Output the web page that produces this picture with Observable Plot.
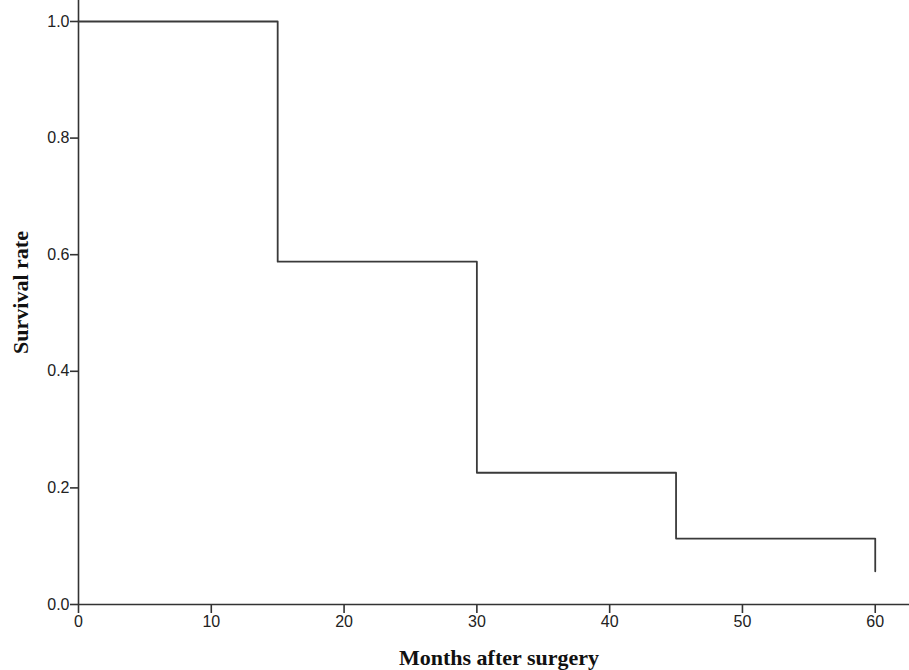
<!DOCTYPE html>
<html>
<head>
<meta charset="utf-8">
<script src="https://cdn.jsdelivr.net/npm/d3@7"></script>
<script src="https://cdn.jsdelivr.net/npm/@observablehq/plot@0.6"></script>
<style>
  html, body { margin: 0; padding: 0; background: #fff; }
  #chart svg { display: block; }
  #chart svg text { font-size: 16px; }
  #chart svg .title text, #chart svg text.title-text { font-size: 22px; }
</style>
</head>
<body>
<div id="chart"></div>
<script>
// Kaplan-Meier survival estimates
const months = [0, 15, 30, 45, 60];
const survival = [1.0, 0.588, 0.226, 0.113, 0.057];
const xTicks = [0, 10, 20, 30, 40, 50, 60];
const yTicks = [0.0, 0.2, 0.4, 0.6, 0.8, 1.0];
const xTitle = "Months after surgery";
const yTitle = "Survival rate";

const data = months.map((m, i) => ({month: m, surv: survival[i]}));

const axisColor = "#333";
const tickFont = "Arial, Liberation Sans, sans-serif";
const titleFont = "Liberation Serif, Times New Roman, serif";

const chart = Plot.plot({
  width: 909,
  height: 670,
  marginLeft: 78,
  marginRight: 0,
  marginTop: 0,
  marginBottom: 66,
  style: {background: "#fff", color: "#222", fontFamily: tickFont, fontSize: "16px"},
  x: {domain: [0, 62.58], ticks: xTicks},
  y: {domain: [0, 1.036], ticks: yTicks},
  marks: [
    Plot.ruleY([0], {stroke: axisColor, strokeWidth: 1.6}),
    Plot.ruleX([0], {stroke: axisColor, strokeWidth: 1.6}),
    Plot.axisX({ticks: xTicks, tickSize: 9, tickPadding: 2, tickFormat: d3.format("d"), label: null, stroke: axisColor, strokeWidth: 1.6, fill: "#222", fontSize: 16}),
    Plot.axisY({ticks: yTicks, tickSize: 8, tickPadding: 1, tickFormat: d3.format(".1f"), label: null, stroke: axisColor, strokeWidth: 1.6, fill: "#222", fontSize: 16}),
    Plot.line(data, {x: "month", y: "surv", curve: "step-after", stroke: "#3a3a3a", strokeWidth: 1.8}),
    Plot.text([xTitle], {frameAnchor: "bottom", dx: 5, dy: 53, textAnchor: "middle", lineAnchor: "middle", fontFamily: titleFont, fontWeight: "bold", fontSize: 22, fill: "#111", className: "title"}),
    Plot.text([yTitle], {frameAnchor: "left", dx: -58, dy: -10, rotate: -90, textAnchor: "middle", lineAnchor: "middle", fontFamily: titleFont, fontWeight: "bold", fontSize: 22, fill: "#111", className: "title"})
  ]
});
document.getElementById("chart").appendChild(chart);
</script>
</body>
</html>
